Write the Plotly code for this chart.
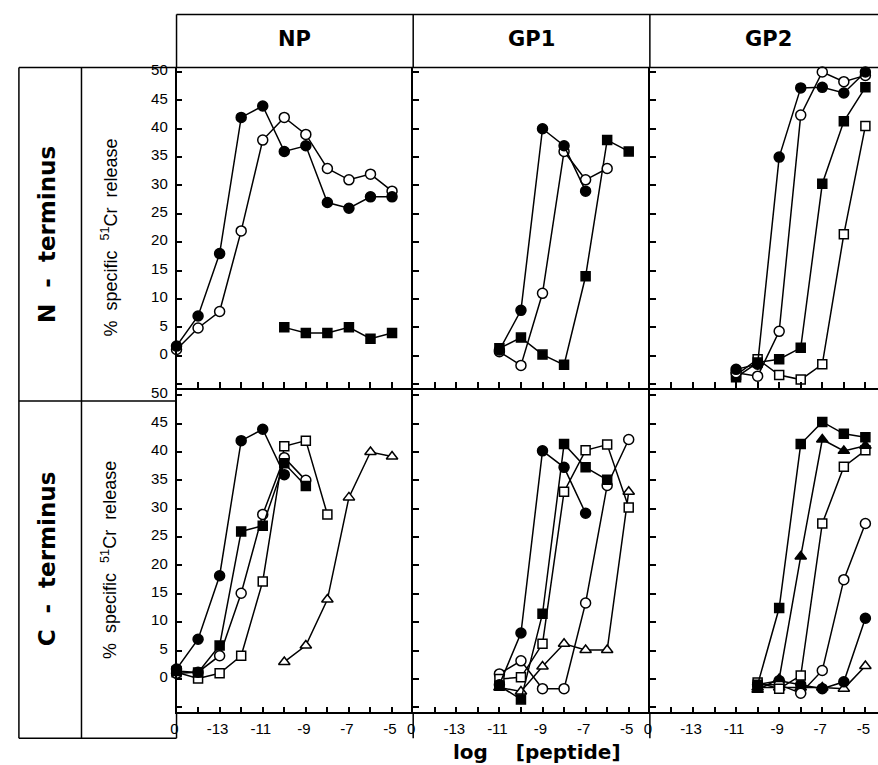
import plotly.graph_objects as go

W, H = 878, 765

# ---------------- data ----------------
# x positions are log10[peptide]; the "0" (no peptide) point is plotted at the -15 slot
ZERO_SLOT = -15
CONC_TICKS = [-15, -14, -13, -12, -11, -10, -9, -8, -7, -6, -5]
CONC_LABELS = ["0", "", "-13", "", "-11", "", "-9", "", "-7", "", "-5"]
Y_TICKS = [-5, 0, 5, 10, 15, 20, 25, 30, 35, 40, 45, 50]
Y_LABELS = ["", "0", "5", "10", "15", "20", "25", "30", "35", "40", "45", "50"]
PANEL_TITLES = ["NP", "GP1", "GP2"]
ROW_TITLES = ["N - terminus", "C - terminus"]

# N-terminus row
np_n_fc_x = [-15, -14, -13, -12, -11, -10, -9, -8, -7, -6, -5]
np_n_fc_y = [1.7, 7, 18, 42, 44, 36, 37, 27, 26, 28, 28]
np_n_oc_x = [-15, -14, -13, -12, -11, -10, -9, -8, -7, -6, -5]
np_n_oc_y = [1.1, 4.9, 7.8, 22, 38, 42, 39, 33, 31, 32, 29]
np_n_fs_x = [-10, -9, -8, -7, -6, -5]
np_n_fs_y = [5, 4, 4, 5, 3, 4]

gp1_n_fs_x = [-11, -10, -9, -8, -7, -6, -5]
gp1_n_fs_y = [1.3, 3.2, 0.2, -1.6, 14, 38, 36]
gp1_n_oc_x = [-11, -10, -9, -8, -7, -6]
gp1_n_oc_y = [0.7, -1.7, 11, 36, 31, 33]
gp1_n_fc_x = [-11, -10, -9, -8, -7]
gp1_n_fc_y = [1, 8, 40, 37, 29]

gp2_n_os_x = [-11, -10, -9, -8, -7, -6, -5]
gp2_n_os_y = [-3.4, -0.6, -3.4, -4.2, -1.5, 21.4, 40.5]
gp2_n_fs_x = [-11, -10, -9, -8, -7, -6, -5]
gp2_n_fs_y = [-3.8, -1.2, -0.6, 1.4, 30.3, 41.3, 47.3]
gp2_n_oc_x = [-11, -10, -9, -8, -7, -6, -5]
gp2_n_oc_y = [-3.0, -3.6, 4.3, 42.4, 50, 48.3, 49.4]
gp2_n_fc_x = [-11, -10, -9, -8, -7, -6, -5]
gp2_n_fc_y = [-2.4, -1.5, 35, 47.2, 47.3, 46.3, 50]

# C-terminus row
np_c_ot_x = [-10, -9, -8, -7, -6, -5]
np_c_ot_y = [3, 5.9, 14, 32, 40, 39.2]
np_c_os_x = [-15, -14, -13, -12, -11, -10, -9, -8]
np_c_os_y = [1.2, 0.1, 1.0, 4.1, 17.2, 41, 42, 29]
np_c_oc_x = [-15, -14, -13, -12, -11, -10, -9]
np_c_oc_y = [1.0, 1.2, 4.1, 15.1, 29, 39, 35]
np_c_fs_x = [-15, -14, -13, -12, -11, -10, -9]
np_c_fs_y = [1.4, 1.15, 5.9, 26, 27, 38, 34]
np_c_fc_x = [-15, -14, -13, -12, -11, -10]
np_c_fc_y = [1.75, 7, 18.2, 42, 44, 36]

gp1_c_ot_x = [-11, -10, -9, -8, -7, -6, -5]
gp1_c_ot_y = [-1.5, -2.2, 2.2, 6.2, 5.1, 5.1, 33]
gp1_c_oc_x = [-11, -10, -9, -8, -7, -6, -5]
gp1_c_oc_y = [0.9, 3.2, -1.7, -1.7, 13.4, 34.1, 42.2]
gp1_c_os_x = [-11, -10, -9, -8, -7, -6, -5]
gp1_c_os_y = [0, 0.3, 6.2, 33, 40.3, 41.3, 30.2]
gp1_c_fs_x = [-11, -10, -9, -8, -7, -6]
gp1_c_fs_y = [-1.2, -3.6, 11.5, 41.4, 37.3, 35.1]
gp1_c_fc_x = [-11, -10, -9, -8, -7]
gp1_c_fc_y = [-1, 8.1, 40.2, 37.3, 29.2]

gp2_c_ot_x = [-10, -9, -8, -7, -6, -5]
gp2_c_ot_y = [-1.5, -1.5, -1.5, -1.5, -1.7, 2.3]
gp2_c_fc_x = [-10, -9, -8, -7, -6, -5]
gp2_c_fc_y = [-1, -0.3, -1, -1.7, -0.5, 10.7]
gp2_c_oc_x = [-10, -9, -8, -7, -6, -5]
gp2_c_oc_y = [-1, -1, -2.5, 1.5, 17.5, 27.4]
gp2_c_os_x = [-10, -9, -8, -7, -6, -5]
gp2_c_os_y = [-0.6, -1.7, 0.6, 27.4, 37.4, 40.3]
gp2_c_ft_x = [-10, -9, -8, -7, -6, -5]
gp2_c_ft_y = [-1.9, 0, 21.6, 42.2, 40.2, 41.1]
gp2_c_fs_x = [-10, -9, -8, -7, -6, -5]
gp2_c_fs_y = [-1, 12.5, 41.4, 45.3, 43.2, 42.6]

# (row, col, kind, x, y)
SERIES = [
    (0, 0, "fs", np_n_fs_x, np_n_fs_y),
    (0, 0, "oc", np_n_oc_x, np_n_oc_y),
    (0, 0, "fc", np_n_fc_x, np_n_fc_y),
    (0, 1, "fs", gp1_n_fs_x, gp1_n_fs_y),
    (0, 1, "oc", gp1_n_oc_x, gp1_n_oc_y),
    (0, 1, "fc", gp1_n_fc_x, gp1_n_fc_y),
    (0, 2, "os", gp2_n_os_x, gp2_n_os_y),
    (0, 2, "fs", gp2_n_fs_x, gp2_n_fs_y),
    (0, 2, "oc", gp2_n_oc_x, gp2_n_oc_y),
    (0, 2, "fc", gp2_n_fc_x, gp2_n_fc_y),
    (1, 0, "ot", np_c_ot_x, np_c_ot_y),
    (1, 0, "os", np_c_os_x, np_c_os_y),
    (1, 0, "oc", np_c_oc_x, np_c_oc_y),
    (1, 0, "fs", np_c_fs_x, np_c_fs_y),
    (1, 0, "fc", np_c_fc_x, np_c_fc_y),
    (1, 1, "ot", gp1_c_ot_x, gp1_c_ot_y),
    (1, 1, "oc", gp1_c_oc_x, gp1_c_oc_y),
    (1, 1, "os", gp1_c_os_x, gp1_c_os_y),
    (1, 1, "fs", gp1_c_fs_x, gp1_c_fs_y),
    (1, 1, "fc", gp1_c_fc_x, gp1_c_fc_y),
    (1, 2, "ot", gp2_c_ot_x, gp2_c_ot_y),
    (1, 2, "fc", gp2_c_fc_x, gp2_c_fc_y),
    (1, 2, "oc", gp2_c_oc_x, gp2_c_oc_y),
    (1, 2, "os", gp2_c_os_x, gp2_c_os_y),
    (1, 2, "ft", gp2_c_ft_x, gp2_c_ft_y),
    (1, 2, "fs", gp2_c_fs_x, gp2_c_fs_y),
]

MARKERS = {
    "fc": ("circle", "black", 10),
    "oc": ("circle", "white", 10),
    "fs": ("square", "black", 9),
    "os": ("square", "white", 9),
    "ft": ("triangle-up", "black", 10),
    "ot": ("triangle-up", "white", 10),
}

# ---------------- layout geometry (pixels) ----------------
COL_X = [171.7, 410.0, 648.3, 886.6]
ROW_Y = [(62.0, 385.0), (385.0, 712.0)]
Y_RANGES = [[-5.68, 50.79], [-5.89, 51.28]]
UNIT_PX = 21.7


def fx(p):
    return p / W


def fy(p):
    return 1 - p / H


FONT = "Liberation Sans, Arial, sans-serif"
BOLD_FONT = "DejaVu Sans, Liberation Sans, sans-serif"
fig = go.Figure()

layout = dict(
    width=W, height=H, autosize=False,
    margin=dict(l=0, r=0, t=0, b=0),
    paper_bgcolor="white", plot_bgcolor="white",
    showlegend=False,
    font=dict(family=FONT, size=15, color="black"),
)

for r in range(2):
    for c in range(3):
        k = r * 3 + c + 1
        x0 = COL_X[c]
        x1 = min(COL_X[c + 1], W)
        xr = [ZERO_SLOT, ZERO_SLOT + (x1 - x0) / UNIT_PX]
        xa = dict(
            domain=[fx(x0), fx(x1)], range=xr,
            tickmode="array", tickvals=CONC_TICKS, ticktext=CONC_LABELS,
            ticks="inside", ticklen=6, tickwidth=1.5, tickcolor="black",
            showline=True, linecolor="black", linewidth=1.5,
            showgrid=False, zeroline=False,
            showticklabels=(r == 1), tickfont=dict(size=15, family=FONT),
            ticklabelstandoff=2, ticklabelshift=-2,
            anchor="y" + ("" if k == 1 else str(k)),
        )
        ya = dict(
            domain=[fy(ROW_Y[r][1]), fy(ROW_Y[r][0])], range=Y_RANGES[r],
            tickmode="array", tickvals=Y_TICKS, ticktext=Y_LABELS,
            ticks="inside", ticklen=6, tickwidth=1.5, tickcolor="black",
            showline=True, linecolor="black", linewidth=1.5,
            showgrid=False, zeroline=False,
            showticklabels=(c == 0), tickfont=dict(size=15, family=FONT),
            ticklabelstandoff=4, ticklabelshift=-2,
            anchor="x" + ("" if k == 1 else str(k)),
        )
        layout["xaxis" + ("" if k == 1 else str(k))] = xa
        layout["yaxis" + ("" if k == 1 else str(k))] = ya

for (r, c, kind, xs, ys) in SERIES:
    k = r * 3 + c + 1
    sym, fill, size = MARKERS[kind]
    fig.add_trace(go.Scatter(
        x=xs, y=ys, mode="lines+markers",
        line=dict(color="black", width=1.5),
        marker=dict(symbol=sym, color=fill, size=size,
                    line=dict(color="black", width=1.5)),
        cliponaxis=False,
        xaxis="x" + ("" if k == 1 else str(k)),
        yaxis="y" + ("" if k == 1 else str(k)),
    ))

shapes = []


def seg(xa_, ya_, xb_, yb_, w=1.5):
    shapes.append(dict(type="line", xref="paper", yref="paper",
                       x0=fx(xa_), y0=fy(ya_), x1=fx(xb_), y1=fy(yb_),
                       line=dict(color="black", width=w)))


# header boxes
seg(COL_X[0], 8.5, W, 8.5)
for xc in COL_X[:3]:
    seg(xc, 8.5, xc, 62)
# top border of plot area and left row-label boxes
seg(13, 62, W, 62)
seg(13, 62, 13, 738)
seg(76, 62, 76, 738)
seg(13, 398, COL_X[0], 398)
seg(13, 738, COL_X[0], 738)
# y axis extensions below the bottom x axis
for xc in COL_X[:3]:
    seg(xc, 712, xc, 738)

annotations = []
for c, t in enumerate(PANEL_TITLES):
    annotations.append(dict(
        text="<b>%s</b>" % t, x=fx((COL_X[c] + COL_X[c + 1]) / 2),
        y=fy(33), xref="paper", yref="paper", showarrow=False,
        font=dict(size=21, family=BOLD_FONT), xanchor="center", yanchor="middle"))
for r, t in enumerate(ROW_TITLES):
    cy = 230 if r == 0 else 557
    annotations.append(dict(
        text="<b>%s</b>" % t.replace(" - ", "  -  "), x=fx(41), y=fy(cy),
        xref="paper", yref="paper",
        showarrow=False, textangle=-90, font=dict(size=23, family=BOLD_FONT),
        xanchor="center", yanchor="middle"))
    ty = 233 if r == 0 else 558
    annotations.append(dict(
        text="%  specific  <sup>51</sup>Cr  release", x=fx(104), y=fy(ty),
        xref="paper", yref="paper", showarrow=False, textangle=-90,
        font=dict(size=18, family=FONT), xanchor="center", yanchor="middle"))
annotations.append(dict(
    text="<b>log    [peptide]</b>", x=fx(535), y=fy(752), xref="paper", yref="paper",
    showarrow=False, font=dict(size=20, family=BOLD_FONT),
    xanchor="center", yanchor="middle"))

layout["shapes"] = shapes
layout["annotations"] = annotations
fig.update_layout(**layout)

POST = ("document.documentElement.style.margin='0';"
        "document.documentElement.style.overflow='hidden';"
        "document.body.style.margin='0';document.body.style.padding='0';"
        "document.body.style.overflow='hidden';")
fig.write_html("out.html", post_script=POST, config={"displayModeBar": False})
